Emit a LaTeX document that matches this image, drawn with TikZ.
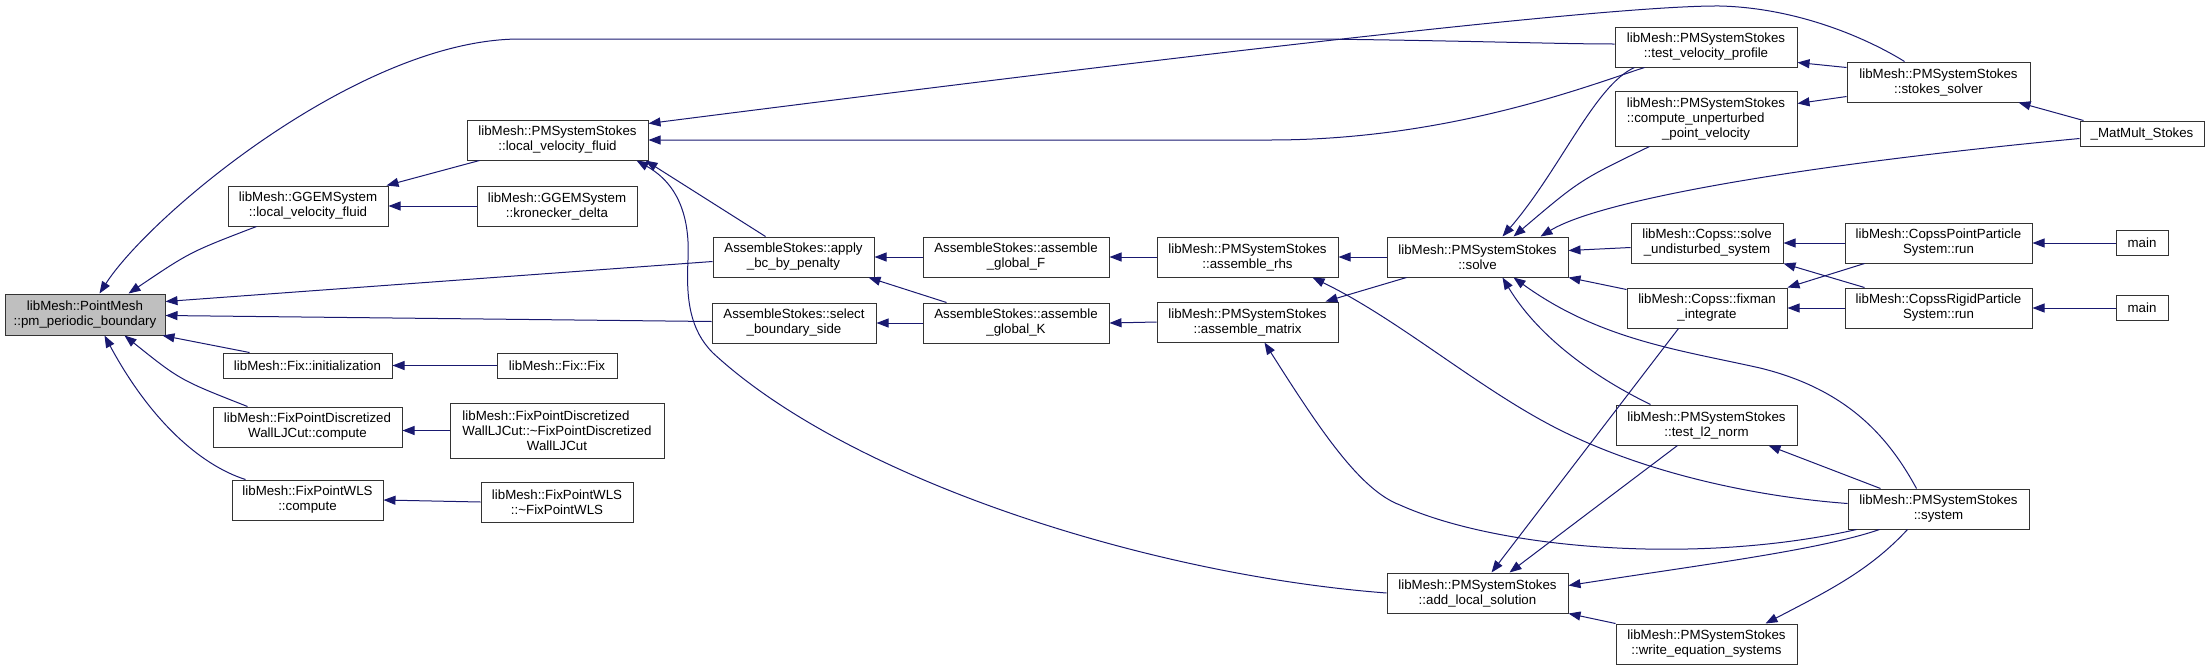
\documentclass[tikz,border=0pt]{standalone}
\usepackage{fontspec}
\setmainfont{Liberation Sans}
\usetikzlibrary{arrows.meta}
\definecolor{edgeblue}{HTML}{191970}
\definecolor{boxgray}{HTML}{BFBFBF}
\tikzset{
  fn/.style={draw=black!80, line width=1pt, fill=white, inner sep=0pt, align=center,
    font=\fontsize{13.3}{15}\selectfont},
  sz/.style 2 args={minimum width=#1pt, minimum height=#2pt},
  e/.style={draw=edgeblue, line width=1pt, {Triangle[length=12pt,width=9pt]}-}
}
\newcommand{\lt}[2]{\begin{tabular}[b]{@{}l@{}}#1\\#2\end{tabular}}
\begin{document}
\begin{tikzpicture}[x=1pt,y=-1pt]
\useasboundingbox (0,0) rectangle (2209,670);
% nodes
\node[fn,sz={160}{41},fill=boxgray] (pm) at (85,314.5) {libMesh::PointMesh\\::pm\_periodic\_boundary};
\node[fn,sz={160}{40}] (ggemlvf) at (308,206) {libMesh::GGEMSystem\\::local\_velocity\_fluid};
\node[fn,sz={160}{40}] (kron) at (557,206) {libMesh::GGEMSystem\\::kronecker\_delta};
\node[fn,sz={169}{25}] (fixinit) at (307.5,365.5) {libMesh::Fix::initialization};
\node[fn,sz={120}{25}] (fixfix) at (557,365.5) {libMesh::Fix::Fix};
\node[fn,sz={189}{40}] (fpdc) at (307.5,427) {libMesh::FixPointDiscretized\\WallLJCut::compute};
\node[fn,sz={214}{55}] (fpdd) at (557,430.5) {\lt{libMesh::FixPointDiscretized}{WallLJCut::\textasciitilde FixPointDiscretized}\\WallLJCut};
\node[fn,sz={151}{40}] (fpwc) at (307.5,500) {libMesh::FixPointWLS\\::compute};
\node[fn,sz={152}{40}] (fpwd) at (557,502) {libMesh::FixPointWLS\\::\textasciitilde FixPointWLS};
\node[fn,sz={181}{40}] (pmlvf) at (557.5,140) {libMesh::PMSystemStokes\\::local\_velocity\_fluid};
\node[fn,sz={161}{40}] (applybc) at (793.5,257) {AssembleStokes::apply\\\_bc\_by\_penalty};
\node[fn,sz={164}{40}] (selbs) at (794,323) {AssembleStokes::select\\\_boundary\_side};
\node[fn,sz={186}{40}] (globF) at (1016,257) {AssembleStokes::assemble\\\_global\_F};
\node[fn,sz={186}{40}] (globK) at (1016,323) {AssembleStokes::assemble\\\_global\_K};
\node[fn,sz={181}{40}] (arhs) at (1247.5,257) {libMesh::PMSystemStokes\\::assemble\_rhs};
\node[fn,sz={181}{40}] (amat) at (1247.5,322) {libMesh::PMSystemStokes\\::assemble\_matrix};
\node[fn,sz={181}{40}] (solve) at (1477.5,257) {libMesh::PMSystemStokes\\::solve};
\node[fn,sz={181}{40}] (addls) at (1477.5,593) {libMesh::PMSystemStokes\\::add\_local\_solution};
\node[fn,sz={182}{40}] (tvp) at (1706,47) {libMesh::PMSystemStokes\\::test\_velocity\_profile};
\node[fn,sz={182}{55}] (cupv) at (1706,118.5) {\lt{libMesh::PMSystemStokes}{::compute\_unperturbed}\\\_point\_velocity};
\node[fn,sz={181}{40}] (tl2) at (1706.5,425) {libMesh::PMSystemStokes\\::test\_l2\_norm};
\node[fn,sz={181}{40}] (wes) at (1706.5,644) {libMesh::PMSystemStokes\\::write\_equation\_systems};
\node[fn,sz={152}{40}] (csu) at (1707,243) {libMesh::Copss::solve\\\_undisturbed\_system};
\node[fn,sz={160}{40}] (cfix) at (1707,308) {libMesh::Copss::fixman\\\_integrate};
\node[fn,sz={183}{40}] (sts) at (1938.5,82) {libMesh::PMSystemStokes\\::stokes\_solver};
\node[fn,sz={181}{40}] (sys) at (1938.5,509) {libMesh::PMSystemStokes\\::system};
\node[fn,sz={187}{40}] (cpp) at (1938.5,243) {libMesh::CopssPointParticle\\System::run};
\node[fn,sz={187}{40}] (crp) at (1938.5,308) {libMesh::CopssRigidParticle\\System::run};
\node[fn,sz={124}{25}] (mm) at (2142,133.5) {\_MatMult\_Stokes};
\node[fn,sz={52}{25}] (main1) at (2142,243) {main};
\node[fn,sz={52}{25}] (main2) at (2142,308) {main};
% edges (arrow at callee)
\draw[e] ([xshift=95pt]pm.north west) .. controls (150,215) and (360,39) .. (520,39) -- (1320,39) .. controls (1480,41) and (1560,44) .. ([yshift=3pt]tvp.west);
\draw[e] ([xshift=124pt]pm.north west) .. controls (190,252) .. ([xshift=29pt]ggemlvf.south west);
\draw[e] ([yshift=-8pt]pm.north east) -- ([yshift=-25pt]applybc.north west);
\draw[e] ([yshift=-22pt]pm.north east) -- ([yshift=-19pt]selbs.north west);
\draw[e] ([xshift=-3pt]pm.south east) -- ([xshift=27pt]fixinit.north west);
\draw[e] ([xshift=120pt]pm.south west) .. controls (180,380) .. ([xshift=35pt]fpdc.north west);
\draw[e] ([xshift=100pt]pm.south west) .. controls (150,420) and (200,465) .. ([xshift=14pt]fpwc.north west);
\draw[e] ([xshift=-2pt]ggemlvf.north east) -- ([xshift=13pt]pmlvf.south west);
\draw[e] (ggemlvf.east) -- (kron.west);
\draw[e] (fixinit.east) -- (fixfix.west);
\draw[e] (fpdc.east |- fpdd.west) -- (fpdd.west);
\draw[e] (fpwc.east) -- (fpwd.west);
\draw[e] ([yshift=-4pt]pmlvf.north east) .. controls (1100,66) and (1600,5) .. (1720,6) .. controls (1800,8) and (1870,40) .. ([xshift=58pt]sts.north west);
\draw[e] (pmlvf.east) -- (1270,140) .. controls (1450,140) and (1590,85) .. ([xshift=30pt]tvp.south west);
\draw[e] ([xshift=-3pt]pmlvf.south east) -- ([xshift=53pt]applybc.north west);
\draw[e] ([xshift=-12pt]pmlvf.south east) .. controls (680,185) and (690,220) .. (688,260) .. controls (686,300) and (690,330) .. (713,353) .. controls (850,480) and (1150,575) .. (addls.west);
\draw[e] (applybc.east) -- (globF.west);
\draw[e] ([xshift=-6pt]applybc.south east) -- ([xshift=24pt]globK.north west);
\draw[e] (selbs.east) -- (globK.west);
\draw[e] (globF.east) -- (arhs.west);
\draw[e] (globK.east) -- (amat.west);
\draw[e] (arhs.east) -- (solve.west);
\draw[e] ([xshift=-13pt]amat.north east) -- ([xshift=20pt]solve.south west);
\draw[e] ([xshift=-26pt]arhs.south east) .. controls (1400,320) and (1480,390) .. (1560,430) .. controls (1650,475) and (1760,497) .. ([yshift=-15pt]sys.north west);
\draw[e] ([xshift=108pt]amat.south west) .. controls (1320,430) and (1360,490) .. (1400,505) .. controls (1500,550) and (1700,565) .. ([xshift=9pt]sys.south west);
\draw[e] ([xshift=116pt]solve.north west) .. controls (1560,170) and (1595,85) .. ([xshift=20pt]tvp.south west);
\draw[e] ([xshift=127pt]solve.north west) .. controls (1580,180) .. ([xshift=35pt]cupv.south west);
\draw[e] ([xshift=-28pt]solve.north east) .. controls (1600,200) and (1800,165) .. ([yshift=-18pt]mm.north west);
\draw[e] ([yshift=-14pt]solve.north east) -- ([yshift=-25pt]csu.north west);
\draw[e] (solve.south east) -- ([yshift=-2pt]cfix.north west);
\draw[e] ([xshift=116pt]solve.south west) .. controls (1540,340) and (1600,380) .. ([xshift=35pt]tl2.north west);
\draw[e] ([xshift=127pt]solve.south west) .. controls (1600,340) and (1680,350) .. (1760,368) .. controls (1850,390) and (1890,440) .. ([xshift=69pt]sys.north west);
\draw[e] (csu.east) -- (cpp.west);
\draw[e] (cpp.east) -- (main1.west);
\draw[e] (csu.south east) -- ([xshift=20pt]crp.north west);
\draw[e] (cfix.north east) -- ([xshift=20pt]cpp.south west);
\draw[e] (cfix.east) -- (crp.west);
\draw[e] (crp.east) -- (main2.west);
\draw[e] ([yshift=-36pt]tvp.north east) -- ([yshift=-6pt]sts.north west);
\draw[e] ([yshift=-13pt]cupv.north east) -- ([yshift=-35pt]sts.north west);
\draw[e] ([xshift=-12pt]sts.south east) -- ([xshift=4pt]mm.north west);
\draw[e] ([xshift=-29pt]tl2.south east) -- ([xshift=33pt]sys.north west);
\draw[e] ([xshift=105pt]addls.north west) -- ([xshift=52pt]cfix.south west);
\draw[e] ([xshift=123pt]addls.north west) -- ([xshift=62pt]tl2.south west);
\draw[e] ([yshift=-13pt]addls.north east) .. controls (1700,565) and (1820,550) .. ([xshift=32pt]sys.south west);
\draw[e] ([xshift=-32pt]wes.north east) .. controls (1830,590) and (1870,570) .. ([xshift=60pt]sys.south west);
\draw[e] (addls.south east) -- (wes.north west);
\end{tikzpicture}
\end{document}
